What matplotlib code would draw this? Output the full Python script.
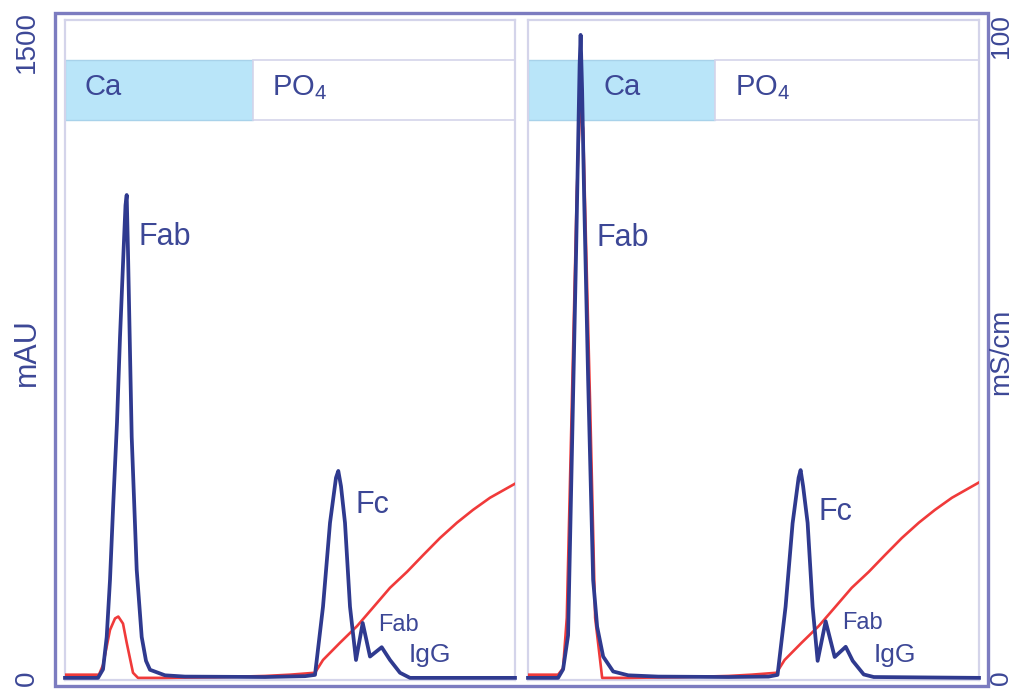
import numpy as np
import matplotlib.pyplot as plt
from matplotlib.patches import Rectangle

plt.rcParams['font.family'] = ['Liberation Sans', 'DejaVu Sans']
plt.rcParams['mathtext.fontset'] = 'custom'
plt.rcParams['mathtext.rm'] = 'Liberation Sans'

# elution volume (mL) and UV absorbance (mAU) / conductivity (mS/cm)
left_uv_x = [0, 3.3, 3.8, 4.17, 4.5, 4.83, 5.2, 5.5, 5.85, 6.05, 6.17, 6.3, 6.67, 7.17, 7.67,
             8.1, 8.5, 10, 12, 20, 24, 25.0, 25.8, 26.5, 27.1, 27.33, 27.6, 28.0, 28.5, 29.1,
             29.77, 30.5, 31.67, 32.5, 33.5, 34.5, 45]
left_uv_y = [0, 0, 20, 96, 230, 411, 600, 800, 1000, 1110, 1134, 1000, 566, 254, 96,
             40, 19, 6, 3, 2, 4, 7, 167, 364, 470, 486, 450, 364, 167, 42,
             129, 50, 72, 42, 12, 0, 0]

left_cond_x = [0, 3.4, 3.8, 4.5, 5.0, 5.33, 5.8, 6.17, 6.8, 7.3, 10, 15, 20, 22.5, 25,
               25.8, 27.5, 29.2, 30.8, 32.5, 34.2, 35.8, 37.5, 39.2, 40.8, 42.5, 45]
left_cond_y = [0.5, 0.5, 2.0, 7.5, 9.3, 9.6, 8.5, 5.5, 0.8, 0.0, 0.0, 0.1, 0.3, 0.5, 0.8,
               2.8, 5.5, 8.1, 11.0, 14.1, 16.6, 19.2, 21.9, 24.3, 26.3, 28.2, 30.4]

right_uv_x = [0, 3.0, 3.5, 4.0, 4.4, 4.8, 5.15, 5.25, 5.4, 5.6, 6.0, 6.5, 6.9, 7.5, 8.5, 10,
              13, 20, 24, 24.9, 25.7, 26.4, 27.0, 27.2, 27.45, 27.9, 28.4, 28.9, 29.7, 30.6,
              31.7, 32.4, 33.5, 34.5, 45]
right_uv_y = [0, 0, 20, 100, 550, 1000, 1440, 1510, 1380, 1130, 700, 230, 120, 50, 15, 6,
              3, 2, 3, 7, 167, 363, 470, 488, 450, 364, 167, 40, 133, 49,
              73, 40, 8, 2, 0]

right_cond_x = [0, 3.0, 3.5, 3.87, 4.37, 4.87, 5.2, 5.5, 6.2, 6.7, 7.4, 10, 15, 20, 22.3,
                24.8, 25.6, 27.3, 29.0, 30.6, 32.3, 34.0, 35.6, 37.3, 39.0, 40.6, 42.3, 45]
right_cond_y = [0.5, 0.5, 1.5, 9.4, 42.7, 76.2, 89.2, 86.0, 42.7, 9.4, 0.0, 0.0, 0.1, 0.3,
                0.5, 0.8, 2.8, 5.5, 8.1, 11.0, 14.1, 16.6, 19.2, 21.9, 24.3, 26.3, 28.2, 30.6]

peak_labels = ['Fab', 'Fc', 'Fab', 'IgG']
left_label_pos = [(10.0, 1035, 22), (30.7, 406, 22), (33.3, 124, 17), (36.5, 54, 19)]
right_label_pos = [(9.5, 1033, 22), (30.7, 390, 22), (33.4, 129, 17), (36.6, 54, 19)]

uv_color = '#2f3a8f'
cond_color = '#f03a3a'
text_color = '#3c4796'
frame_color = '#7c7cc0'
panel_color = '#d4d4ea'

W, H = 1013, 691
fig = plt.figure(figsize=(W / 100, H / 100), dpi=100)


def fx(px):
    return px / W


def fy(py):
    return 1 - py / H


# outer frame
fig.patches.append(Rectangle((fx(55), fy(686)), fx(988) - fx(55), fy(13) - fy(686),
                             transform=fig.transFigure, fill=False,
                             edgecolor=frame_color, lw=2.4))


def make_panel(left_px, right_px, uv_x, uv_y, cond_x, cond_y, labels, ca_x, ca_ha, ca_frac):
    ax = fig.add_axes([fx(left_px), fy(680), fx(right_px) - fx(left_px), fy(20) - fy(680)])
    ax.set_xlim(0, 45)
    ax.set_ylim(-5, 1545)
    ax.set_xticks([])
    ax.set_yticks([])
    for s in ax.spines.values():
        s.set_color(panel_color)
        s.set_linewidth(1.6)

    # buffer band
    ax.add_patch(Rectangle((0, 0.848), ca_frac, 0.091, transform=ax.transAxes,
                           facecolor='#b9e5f9', edgecolor='#a8d2ea', lw=1.0, zorder=1))
    ax.add_patch(Rectangle((ca_frac, 0.848), 1 - ca_frac, 0.091, transform=ax.transAxes,
                           facecolor='white', edgecolor=panel_color, lw=1.2, zorder=1))
    ax.text(ca_x, 0.898, 'Ca', transform=ax.transAxes, ha=ca_ha, va='center',
            fontsize=21, color=text_color, zorder=2)
    ax.text(0.46, 0.898, r'PO$_\mathregular{4}$', transform=ax.transAxes, ha='left',
            va='center', fontsize=21, color=text_color, zorder=2)

    ax2 = ax.twinx()
    ax2.set_ylim(-5 / 15, 1545 / 15)
    ax2.axis('off')
    ax2.plot(cond_x, cond_y, color=cond_color, lw=1.9, zorder=3,
             solid_joinstyle='round')
    ax2.plot(uv_x, np.array(uv_y) / 15, color=uv_color, lw=2.7, zorder=4,
             solid_joinstyle='round', clip_on=False)

    for name, (x, y, fs) in zip(peak_labels, labels):
        ax2.text(x, y / 15, name, ha='center', va='center', fontsize=fs, color=text_color)
    return ax


make_panel(65, 515, left_uv_x, left_uv_y, left_cond_x, left_cond_y, left_label_pos,
           0.044, 'left', 0.418)
make_panel(528, 979, right_uv_x, right_uv_y, right_cond_x, right_cond_y, right_label_pos,
           0.208, 'center', 0.415)

# axis labels drawn outside the frame
fig.text(fx(27), fy(42), '1500', rotation=90, ha='center', va='center', fontsize=20, color=text_color)
fig.text(fx(27), fy(678), '0', rotation=90, ha='center', va='center', fontsize=20, color=text_color)
fig.text(fx(27), fy(352), 'mAU', rotation=90, ha='center', va='center', fontsize=22, color=text_color)
fig.text(fx(1001), fy(36), '100', rotation=90, ha='center', va='center', fontsize=19, color=text_color)
fig.text(fx(1001), fy(352), 'mS/cm', rotation=90, ha='center', va='center', fontsize=20, color=text_color)
fig.text(fx(1001), fy(678), '0', rotation=90, ha='center', va='center', fontsize=19, color=text_color)

fig.savefig('out.png', dpi=100)
